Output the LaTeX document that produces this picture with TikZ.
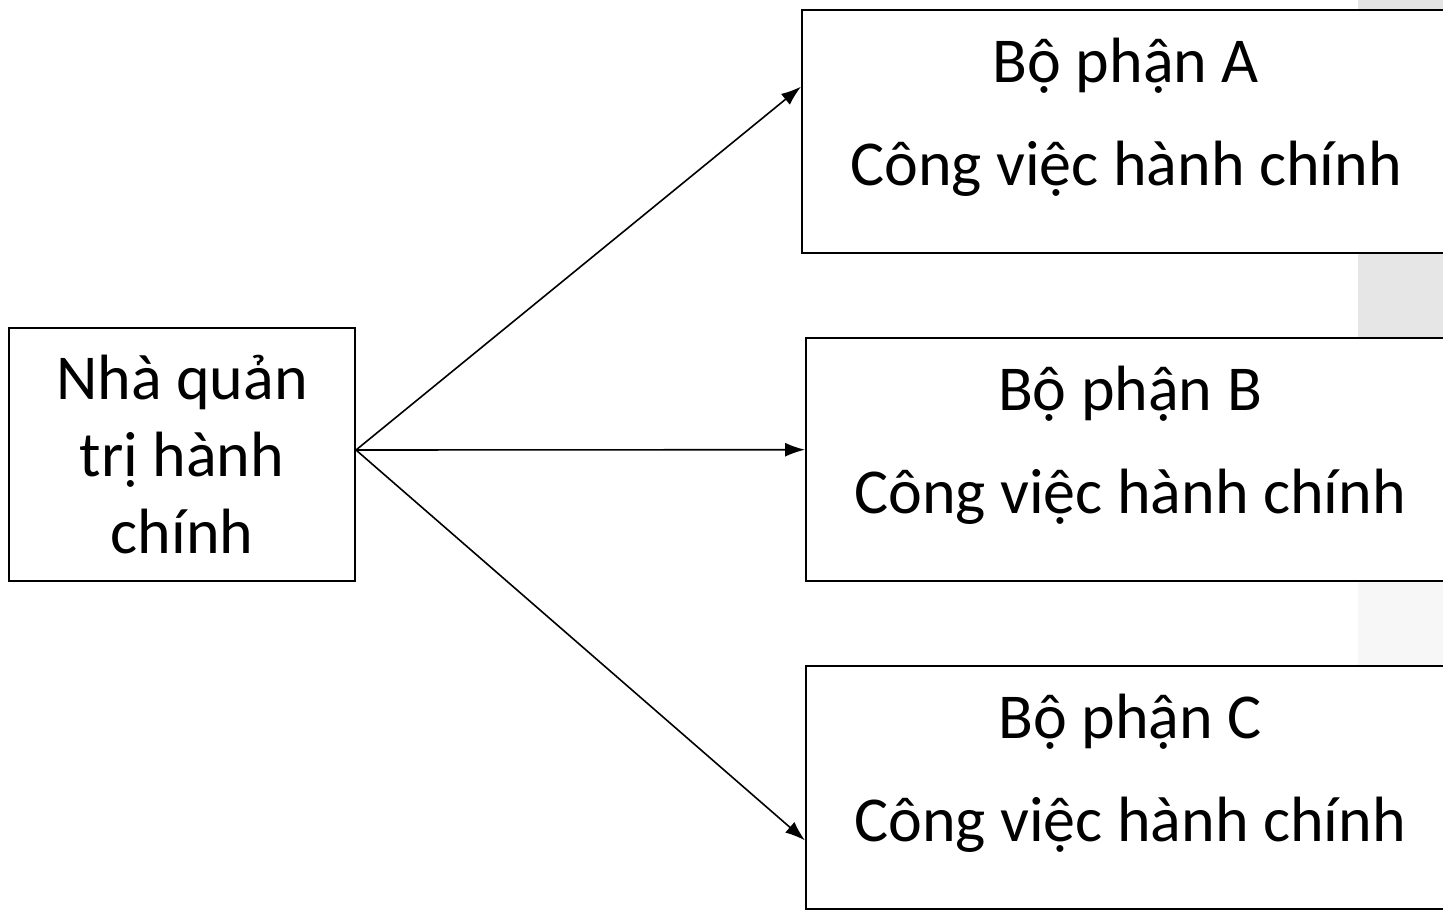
\documentclass[tikz,border=0pt]{standalone}
\usepackage{fontspec}
\setmainfont{Carlito}
\usetikzlibrary{arrows.meta,positioning,calc}
\definecolor{stripeA}{HTML}{E4E4E4}
\definecolor{stripeB}{HTML}{E6E6E6}
\definecolor{stripeC}{HTML}{F7F7F7}
\tikzset{
  unitbox/.style={draw=black,line width=1pt,fill=white,align=center,inner sep=0pt},
  boss/.style={unitbox,minimum width=173pt,minimum height=126.5pt,font=\fontsize{32}{38.5}\selectfont},
  dept/.style={unitbox,minimum width=324pt,minimum height=121.5pt,text depth=20pt,font=\fontsize{32}{51.5}\selectfont},
  link/.style={-{Latex[length=10pt,width=7pt]},line width=0.8pt}
}
\begin{document}
\begin{tikzpicture}[x=0.5pt,y=-0.5pt]
\useasboundingbox (0,0) rectangle (1443,909);
\clip (0,0) rectangle (1443,909);
% stripe on the right edge
\fill[stripeA] (1358,0) rectangle (1443,12);
\fill[stripeB] (1358,252) rectangle (1443,340);
\fill[stripeC] (1358,580) rectangle (1443,668);

\node[boss] (nqt) at (182,454.5) {Nhà quản\\trị hành\\chính};
\node[dept] (bpa) at (1126,131.5) {Bộ phận A\\Công việc hành chính};
\node[dept] (bpb) at (1130,459.5) {Bộ phận B\\Công việc hành chính};
\node[dept] (bpc) at (1130,787.5) {Bộ phận C\\Công việc hành chính};

\coordinate (src) at ([yshift=2.25pt]nqt.east);
\draw[link] (src) -- ($(bpa.north west)!0.317!(bpa.south west)$);
\draw[link] (src) -- ($(bpb.north west)!0.46!(bpb.south west)$);
\draw[link] (src) -- ($(bpc.north west)!0.716!(bpc.south west)$);
\end{tikzpicture}
\end{document}
